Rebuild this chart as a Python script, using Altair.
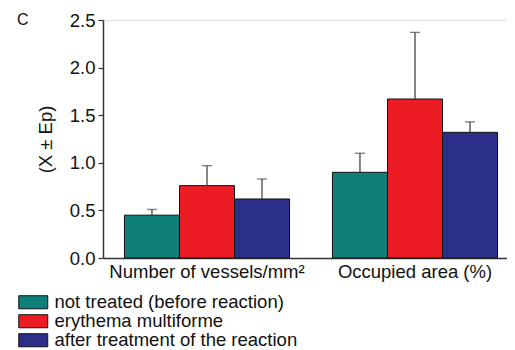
import altair as alt
import pandas as pd

categories = ["Number of vessels/mm²", "Occupied area (%)"]
groups = ["not treated (before reaction)", "erythema multiforme", "after treatment of the reaction"]
colors = ["#0f7f7a", "#ec1c24", "#2b2f8a"]
means = {
    "Number of vessels/mm²": [0.45, 0.76, 0.62],
    "Occupied area (%)": [0.90, 1.67, 1.32],
}
errors_top = {
    "Number of vessels/mm²": [0.51, 0.97, 0.83],
    "Occupied area (%)": [1.10, 2.37, 1.43],
}
y_ticks = [0.0, 0.25, 0.5, 0.75, 1.0, 1.25, 1.5, 1.75, 2.0, 2.25, 2.5]

rows = []
for c in categories:
    for i, g in enumerate(groups):
        rows.append({"cat": c, "grp": g, "order": i, "mean": means[c][i], "err": errors_top[c][i]})
df = pd.DataFrame(rows)

FONT = "Liberation Sans"
FS = 18.5

x_enc = alt.X("cat:N", sort=categories, title=None,
              scale=alt.Scale(paddingInner=0, paddingOuter=0, range=[0, 416]),
              axis=alt.Axis(labelAngle=0, ticks=False, labelFontSize=FS, labelFont=FONT,
                            labelColor="#111", labelPadding=4, labelLimit=0, domainColor="#333",
                            domainWidth=1.5))
xo_enc = alt.XOffset("grp:N", sort=groups, scale=alt.Scale(paddingInner=0, paddingOuter=0.39))

base = alt.Chart(df)

bars = base.mark_bar(stroke="#111", strokeWidth=1).encode(
    x=x_enc,
    xOffset=xo_enc,
    y=alt.Y("mean:Q", title="(X ± Ep)",
            scale=alt.Scale(domain=[0, 2.5], nice=False),
            axis=alt.Axis(values=y_ticks, grid=False,
                          labelExpr="datum.value % 0.5 == 0 ? format(datum.value, '.1f') : ''",
                          tickSize={"condition": {"test": "datum.value % 0.5 == 0", "value": 5}, "value": 3},
                          labelFontSize=FS, labelFont=FONT, labelColor="#111", labelPadding=3,
                          titleFontSize=FS, titleFont=FONT, titleFontWeight="normal", titleColor="#111",
                          titlePadding=14, domainColor="#333", domainWidth=1.5,
                          tickColor="#333", tickWidth=1.2)),
    color=alt.Color("grp:N", sort=groups, scale=alt.Scale(domain=groups, range=colors),
                    legend=alt.Legend(title=None, orient="none", legendX=-79, legendY=273,
                                      labelFontSize=FS, labelFont=FONT, labelColor="#111",
                                      labelLimit=0,
                                      symbolType="M-2,-0.9L2,-0.9L2,0.9L-2,0.9Z",
                                      symbolSize=210, symbolStrokeColor="#111", symbolStrokeWidth=1,
                                      symbolOpacity=1, labelOffset=12, rowPadding=-4)),
)

err_rule = base.mark_rule(color="#444", strokeWidth=1.3).encode(
    x=alt.X("cat:N", sort=categories), xOffset=xo_enc,
    y=alt.Y("mean:Q"), y2="err:Q")

err_cap = base.mark_tick(color="#444", thickness=1.3, size=10, orient="horizontal").encode(
    x=alt.X("cat:N", sort=categories), xOffset=xo_enc, y=alt.Y("err:Q"))

label_c = alt.Chart(pd.DataFrame({"t": ["C"]})).mark_text(
    fontSize=16, font=FONT, color="#111", align="left", baseline="middle").encode(
    x=alt.value(-86), y=alt.value(0), text="t:N")

chart = alt.layer(bars, err_rule, err_cap, label_c).properties(
    width=404, height=238,
    autosize=alt.AutoSizeParams(type="none"),
    padding={"left": 95, "top": 12, "right": 0, "bottom": 92},
).configure_view(stroke=None).configure(background="white")

chart.save("out.html", embed_options={"renderer": "svg", "actions": False})
